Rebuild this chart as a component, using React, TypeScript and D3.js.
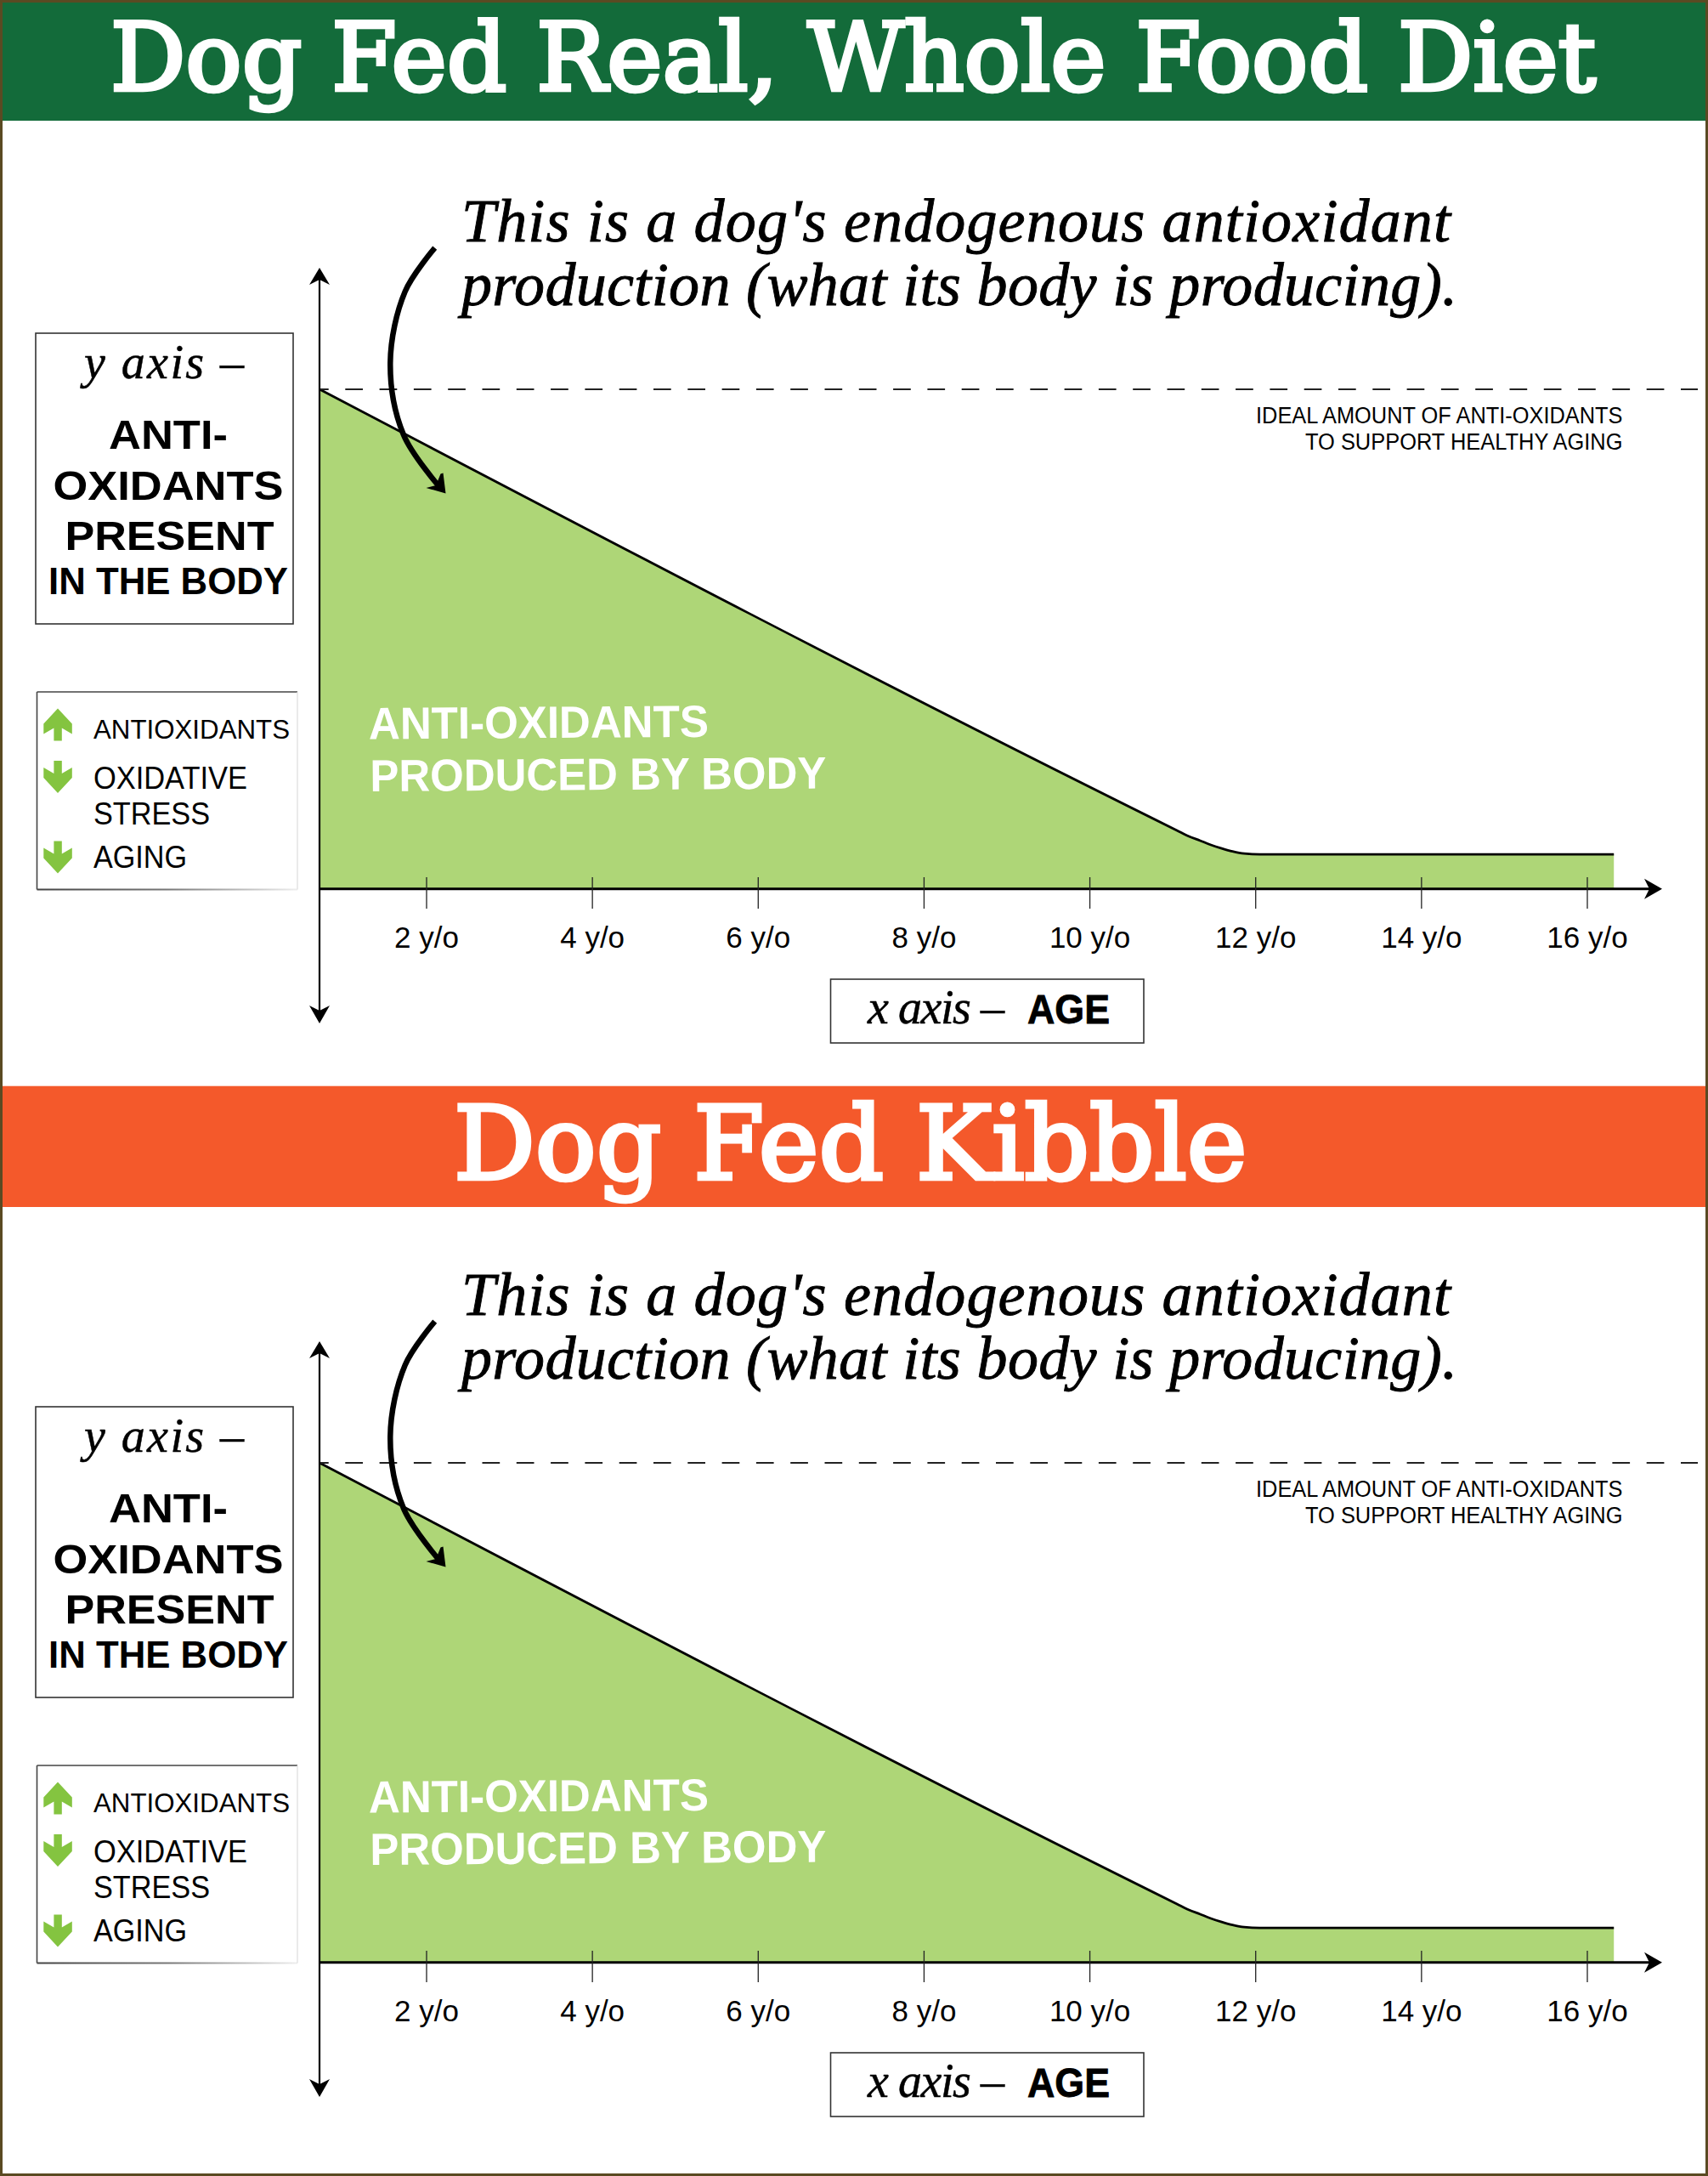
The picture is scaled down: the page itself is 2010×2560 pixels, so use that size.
import React from "react";
import * as d3 from "d3";

const WIDTH = 2010;
const HEIGHT = 2560;
const PANEL_OFFSET = 1263;

const tickAges = [2, 4, 6, 8, 10, 12, 14, 16];
const curveAges = [0.71, 11.05, 11.19, 11.33, 11.46, 11.59, 11.72, 11.86, 12.05, 16.32];
const curveValues = [100, 11.7, 10.55, 9.65, 8.8, 8.1, 7.5, 7.07, 6.92, 6.92];
const idealValue = 100;

const yBoxLines = ["ANTI-", "OXIDANTS", "PRESENT", "IN THE BODY"];
const legendLines = ["ANTIOXIDANTS", "OXIDATIVE", "STRESS", "AGING"];
const legendArrowDirs = ["up", "down", "down"];
const callout = ["This is a dog's endogenous antioxidant", "production (what its body is producing)."];
const idealNote = ["IDEAL AMOUNT OF ANTI-OXIDANTS", "TO SUPPORT HEALTHY AGING"];
const areaNote = ["ANTI-OXIDANTS", "PRODUCED BY BODY"];

const calloutCurveX = [511.7, 476.7, 459.3, 475, 519];
const calloutCurveY = [291.7, 343, 426.7, 511.7, 575];

const x = d3.scaleLinear().domain([2, 16]).range([502, 1868]);
const y = d3.scaleLinear().domain([0, 100]).range([1045.7, 458]);

const curvePts: [number, number][] = curveAges.map((a, i) => [a, curveValues[i]]);
const areaGen = d3.area<[number, number]>().x((d) => x(d[0])).y0(y(0)).y1((d) => y(d[1])).curve(d3.curveMonotoneX);
const lineGen = d3.line<[number, number]>().x((d) => x(d[0])).y((d) => y(d[1])).curve(d3.curveMonotoneX);
const calloutGen = d3
  .line<[number, number]>()
  .x((d) => d[0])
  .y((d) => d[1])
  .curve(d3.curveCatmullRom.alpha(0.5));

const SANS = "'Liberation Sans', Arial, sans-serif";
const HAND = "'Liberation Serif', serif";
const SLAB = "'DejaVu Serif', serif";

function Txt({ x: tx, y: ty, w, size, font = SANS, weight = 400, italic = false, fill = "#000", adjust = "spacingAndGlyphs", stroke, sw, rotate, children }: any) {
  return (
    <text
      x={tx}
      y={ty}
      textLength={w}
      lengthAdjust={adjust}
      fontSize={size}
      fontFamily={font}
      fontWeight={weight}
      fontStyle={italic ? "italic" : "normal"}
      fill={fill}
      stroke={stroke}
      strokeWidth={sw}
      transform={rotate ? `rotate(${rotate} ${tx} ${ty})` : undefined}
    >
      {children}
    </text>
  );
}

function legendArrow(dir: string, top: number) {
  const pts = [
    [63.4, 0],
    [72.8, 0],
    [72.8, 15],
    [84.8, 8],
    [84.8, 20],
    [68, 38],
    [51.3, 20],
    [51.3, 8],
    [63.4, 15],
  ];
  return pts.map(([px, py]) => `${px},${dir === "down" ? top + py : top + 38 - py}`).join(" ");
}

function Panel({ dy }: { dy: number }) {
  const axisY = y(0);
  const idealY = y(idealValue);
  const axisX = 376;
  return (
    <g transform={`translate(0 ${dy})`}>
      <path d={areaGen(curvePts) || ""} fill="#aed677" />
      <path d={lineGen(curvePts) || ""} fill="none" stroke="#000" strokeWidth={2.8} />
      <line x1={axisX} x2={1998} y1={idealY} y2={idealY} stroke="#222" strokeWidth={2} strokeDasharray="20.7 19.6" strokeDashoffset={10} />

      {/* axes */}
      <line x1={axisX} x2={axisX} y1={325} y2={1195} stroke="#000" strokeWidth={2.2} />
      <line x1={axisX} x2={1945} y1={axisY} y2={axisY} stroke="#000" strokeWidth={3} />
      <polygon points={`${axisX},315 ${axisX + 12},335 ${axisX},329 ${axisX - 12},335`} fill="#000" />
      <polygon points={`${axisX},1204 ${axisX + 12},1183 ${axisX},1189 ${axisX - 12},1183`} fill="#000" />
      <polygon points={`1956,${axisY} 1935,${axisY - 12} 1941,${axisY} 1935,${axisY + 12}`} fill="#000" />

      {tickAges.map((a) => (
        <g key={a}>
          <line x1={x(a)} x2={x(a)} y1={1032} y2={1069} stroke="#222" strokeWidth={1.3} />
          <text x={x(a)} y={1115} textAnchor="middle" fontFamily={SANS} fontSize={35} fill="#000">
            {`${a} y/o`}
          </text>
        </g>
      ))}

      {/* callout */}
      <Txt x={543} y={284} w={1164} size={72} font={HAND} italic adjust="spacing" stroke="#000" sw={0.9}>{callout[0]}</Txt>
      <Txt x={543} y={359} w={1172} size={72} font={HAND} italic adjust="spacing" stroke="#000" sw={0.9}>{callout[1]}</Txt>
      <path
        d={calloutGen(calloutCurveX.map((v, i) => [v, calloutCurveY[i]] as [number, number])) || ""}
        fill="none"
        stroke="#000"
        strokeWidth={6.5}
      />
      <polygon points="501.5,574 513,571 518.5,557.5 521.5,556.5 524.5,580.5" fill="#000" />

      {/* y box */}
      <rect x={42} y={392} width={303} height={342} fill="#fff" stroke="#333" strokeWidth={1.6} />
      <Txt x={99} y={445} w={188} size={56} font={HAND} italic adjust="spacing" stroke="#000" sw={0.5}>y axis –</Txt>
      <Txt x={128} y={528} w={140} size={48} weight={700}>{yBoxLines[0]}</Txt>
      <Txt x={62.5} y={587.5} w={271} size={48} weight={700}>{yBoxLines[1]}</Txt>
      <Txt x={76.5} y={647} w={246} size={48} weight={700}>{yBoxLines[2]}</Txt>
      <Txt x={57} y={699} w={282} size={44} weight={700}>{yBoxLines[3]}</Txt>

      {/* legend box */}
      <rect x={43.5} y={814} width={306.5} height={232.5} fill="#fff" stroke="none" />
      <line x1={43.5} x2={350} y1={814} y2={814} stroke="#444" strokeWidth={1.6} />
      <line x1={43.5} x2={43.5} y1={814} y2={1046.5} stroke="#444" strokeWidth={1.6} />
      <line x1={43.5} x2={350} y1={1046.5} y2={1046.5} stroke="url(#legendFade)" strokeWidth={1.8} />
      <line x1={350} x2={350} y1={814} y2={1046.5} stroke="#ddd" strokeWidth={1.2} />
      {legendArrowDirs.map((dir, i) => (
        <polygon key={i} points={legendArrow(dir, [833.5, 895, 989.5][i])} fill="#84c440" />
      ))}
      <Txt x={110} y={868.5} w={231} size={32}>{legendLines[0]}</Txt>
      <Txt x={110} y={928} w={181} size={36}>{legendLines[1]}</Txt>
      <Txt x={110} y={970} w={137} size={36}>{legendLines[2]}</Txt>
      <Txt x={110} y={1020.7} w={110} size={36}>{legendLines[3]}</Txt>

      {/* area text */}
      <Txt x={434} y={869.5} w={400} size={53} weight={700} fill="#fff" rotate={-0.38}>{areaNote[0]}</Txt>
      <Txt x={435.5} y={931} w={537} size={53} weight={700} fill="#fff" rotate={-0.38}>{areaNote[1]}</Txt>

      {/* ideal note */}
      <Txt x={1478} y={498} w={431.5} size={27}>{idealNote[0]}</Txt>
      <Txt x={1536} y={529} w={373.5} size={27}>{idealNote[1]}</Txt>

      {/* x box */}
      <rect x={977.5} y={1152} width={368.5} height={75} fill="#fff" stroke="#333" strokeWidth={1.6} />
      <Txt x={1021} y={1204} w={161} size={56} font={HAND} italic adjust="spacing" stroke="#000" sw={0.5}>x axis –</Txt>
      <Txt x={1209} y={1204} w={97} size={48} weight={700} stroke="#000" sw={0.8}>AGE</Txt>
    </g>
  );
}

export default function App() {
  return (
    <svg
      width={WIDTH}
      height={HEIGHT}
      viewBox={`0 0 ${WIDTH} ${HEIGHT}`}
      style={{ position: "absolute", left: 0, top: 0, display: "block" }}
    >
      <defs>
        <linearGradient id="legendFade" gradientUnits="userSpaceOnUse" x1={43.5} y1={0} x2={350} y2={0}>
          <stop offset="0" stopColor="#444" />
          <stop offset="0.5" stopColor="#777" />
          <stop offset="1" stopColor="#eee" />
        </linearGradient>
      </defs>
      <rect width={WIDTH} height={HEIGHT} fill="#fff" />

      <rect x={0} y={3} width={WIDTH} height={139} fill="#136b3a" />
      <Txt x={130} y={106} w={1748} size={110} font={SLAB} fill="#fff" stroke="#fff" sw={4.5}>
        Dog Fed Real, Whole Food Diet
      </Txt>

      <rect x={0} y={1277.7} width={WIDTH} height={142.3} fill="#f4592b" />
      <Txt x={534} y={1387.3} w={933.6} size={120} font={SLAB} fill="#fff" stroke="#fff" sw={4.5}>
        Dog Fed Kibble
      </Txt>

      <Panel dy={0} />
      <Panel dy={PANEL_OFFSET} />

      <rect x={1.5} y={1.5} width={WIDTH - 3} height={HEIGHT - 3} fill="none" stroke="#5a4a22" strokeWidth={3} />
    </svg>
  );
}
